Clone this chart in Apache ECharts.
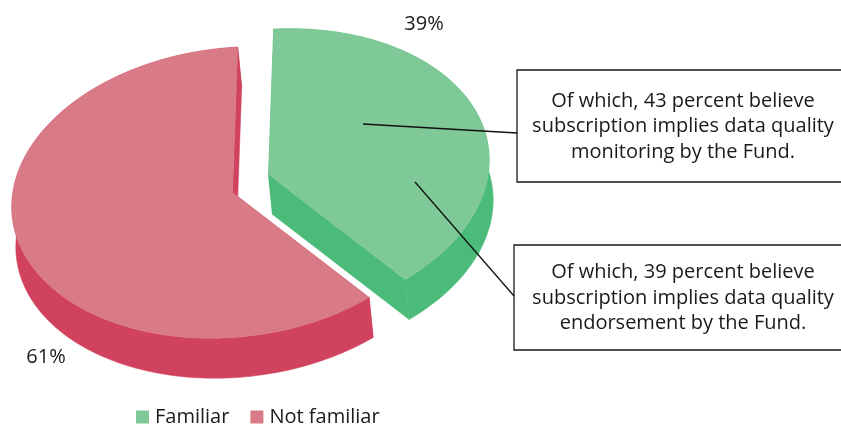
<!DOCTYPE html>
<html>
<head>
<meta charset="utf-8">
<title>Familiarity</title>
<style>
  html, body { margin: 0; padding: 0; background: #fff; }
  #main { width: 841px; height: 424px; }
</style>
<script src="https://cdn.jsdelivr.net/npm/echarts@6/dist/echarts.min.js"></script>
</head>
<body>
<div id="main"></div>
<script>
  // values
  const categories = ['Familiar', 'Not familiar'];
  const shares = [39, 61];
  const notes = [
    'Of which, 43 percent believe\nsubscription implies data quality\nmonitoring by the Fund.',
    'Of which, 39 percent believe\nsubscription implies data quality\nendorsement by the Fund.'
  ];

  const topColors = ['#7fc897', '#d87b86'];
  const sideColors = ['#4abb78', '#d0425e'];
  const fontName = '"Open Sans", sans-serif';

  // tilted ellipse standing in for the 3d pie
  const pie = { cx: 232.5, cy: 192.5, a: 221.5, b: 144.5, tilt: -6.5 * Math.PI / 180, depthX: 4, depthY: 40, start: -84.4 };
  const explode = [[36, -18], [0, 0]];
  const labelPos = [[424, 24], [46, 357]];

  function onEllipse(deg, dx, dy) {
    const t = deg * Math.PI / 180;
    const u = pie.a * Math.cos(t), v = pie.b * Math.sin(t);
    return [
      pie.cx + dx + u * Math.cos(pie.tilt) - v * Math.sin(pie.tilt),
      pie.cy + dy + u * Math.sin(pie.tilt) + v * Math.cos(pie.tilt)
    ];
  }

  function shift(p) {
    return [p[0] + pie.depthX, p[1] + pie.depthY];
  }

  function makeSlice(index) {
    return function (params, api) {
      const total = shares.reduce((s, v) => s + v, 0);
      const before = shares.slice(0, index).reduce((s, v) => s + v, 0);
      const from = pie.start + before / total * 360;
      const to = from + api.value(0) / total * 360;
      const dx = explode[index][0], dy = explode[index][1];

      const arc = [];
      for (let d = from; d < to; d += 1) arc.push(onEllipse(d, dx, dy));
      arc.push(onEllipse(to, dx, dy));
      const apex = [pie.cx + dx, pie.cy + dy];
      const first = arc[0], last = arc[arc.length - 1];

      const poly = (points, fill) => ({
        type: 'polygon',
        shape: { points: points },
        style: { fill: fill, stroke: fill, lineWidth: 0.5 }
      });
      return {
        type: 'group',
        children: [
          poly(arc.concat(arc.map(shift).reverse()), sideColors[index]),
          poly([apex, first, shift(first), shift(apex)], sideColors[index]),
          poly([apex, last, shift(last), shift(apex)], sideColors[index]),
          poly([apex].concat(arc), topColors[index]),
          {
            type: 'text',
            style: {
              x: labelPos[index][0], y: labelPos[index][1],
              text: api.value(0) + '%',
              fill: '#1a1a1a', font: '20px ' + fontName,
              align: 'center', verticalAlign: 'middle'
            }
          }
        ]
      };
    };
  }

  function noteBox(x, y, w, h, text) {
    return {
      type: 'group',
      z: 20,
      children: [
        {
          type: 'rect',
          z: 20,
          shape: { x: x, y: y, width: w, height: h },
          style: { fill: '#fff', stroke: '#1a1a1a', lineWidth: 1.3 }
        },
        {
          type: 'text',
          z: 22,
          x: 683,
          y: y + h / 2 + 0.5,
          style: {
            text: text, fill: '#1a1a1a', font: '20px ' + fontName,
            align: 'center', verticalAlign: 'middle', lineHeight: 25.5
          }
        }
      ]
    };
  }

  function leader(x1, y1, x2, y2) {
    return {
      type: 'line',
      z: 21,
      shape: { x1: x1, y1: y1, x2: x2, y2: y2 },
      style: { stroke: '#111', lineWidth: 1.3 }
    };
  }

  const chart = echarts.init(document.getElementById('main'));
  chart.setOption({
    animation: false,
    legend: {
      left: 131,
      top: 402,
      itemWidth: 13,
      itemHeight: 13,
      itemGap: 21,
      icon: 'rect',
      data: categories,
      textStyle: { color: '#1a1a1a', fontFamily: fontName, fontSize: 20, padding: [0, 0, 0, 1] }
    },
    series: categories.map((name, i) => ({
      name: name,
      type: 'custom',
      coordinateSystem: 'none',
      color: topColors[i],
      itemStyle: { color: topColors[i] },
      renderItem: makeSlice(i),
      data: [[shares[i]]]
    })),
    graphic: [
      noteBox(517, 70, 330, 112, notes[0]),
      noteBox(514, 245, 333, 105, notes[1]),
      leader(363, 124, 517, 133),
      leader(415, 182, 514, 296)
    ]
  });
</script>
</body>
</html>
